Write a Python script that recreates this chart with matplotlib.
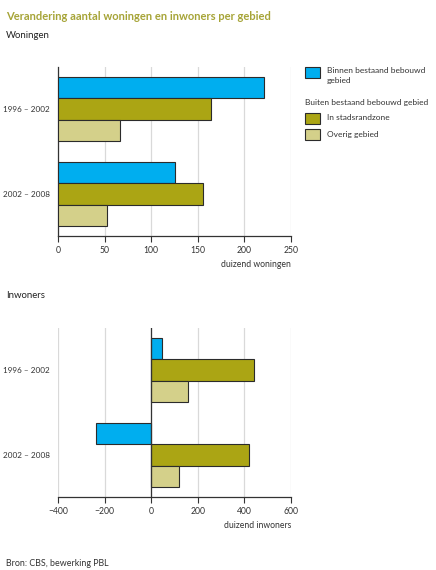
import matplotlib.pyplot as plt
from matplotlib.patches import Rectangle

periods = ["1996 – 2002", "2002 – 2008"]
series = ["Binnen bestaand bebouwd\ngebied", "In stadsrandzone", "Overig gebied"]
colors = ["#00aeef", "#aba514", "#d4d08a"]

# duizend woningen
woningen = [[221, 126],   # binnen bestaand bebouwd gebied
            [164, 156],   # in stadsrandzone
            [66, 53]]     # overig gebied

# duizend inwoners
inwoners = [[47, -237],
            [443, 421],
            [159, 119]]

plt.rcParams['font.family'] = ['Lato', 'DejaVu Sans']
plt.rcParams['font.size'] = 6

fig = plt.figure(figsize=(4.36, 5.70), dpi=100)
W, H = 436, 570

def axes_px(left, top, right, bottom):
    return fig.add_axes([left / W, 1 - bottom / H, (right - left) / W, (bottom - top) / H])

ax1 = axes_px(58, 67, 291, 236)
ax2 = axes_px(58, 328, 291, 497)

centers = [0, 4]

def draw(ax, data, xlim, ticks, xlabel, zero_line):
    for s, vals in enumerate(data):
        ys = [c - 1 + s for c in centers]
        ax.barh(ys, vals, height=1.0, color=colors[s], edgecolor="#2b2b2b",
                linewidth=0.8, zorder=3)
    ax.set_ylim(5.97, -1.97)
    ax.set_xlim(*xlim)
    ax.set_xticks(ticks)
    ax.set_yticks(centers)
    ax.set_yticklabels(periods, fontsize=5.9, color="#333333")
    ax.tick_params(axis="y", length=0, pad=6)
    ax.tick_params(axis="x", length=4, width=0.8, color="#333333", labelsize=6.2,
                   labelcolor="#333333", pad=3)
    ax.grid(axis="x", color="#d9d9d9", linewidth=0.9, zorder=0)
    for sp in ["top", "right"]:
        ax.spines[sp].set_visible(False)
    ax.spines["bottom"].set_color("#333333")
    ax.spines["bottom"].set_linewidth(0.9)
    if zero_line:
        ax.spines["left"].set_visible(False)
        ax.axvline(0, color="#333333", linewidth=0.9, zorder=4)
    else:
        ax.spines["left"].set_color("#333333")
        ax.spines["left"].set_linewidth(0.9)
    ax.set_xlabel(xlabel, fontsize=6.2, color="#333333", loc="right", labelpad=4)

draw(ax1, woningen, (0, 250), [0, 50, 100, 150, 200, 250], "duizend woningen", False)
draw(ax2, inwoners, (-400, 600), [-400, -200, 0, 200, 400, 600], "duizend inwoners", True)

def ftext(x, y, s, **kw):
    fig.text(x / W, 1 - y / H, s, va="center", ha="left", **kw)

ftext(6, 16, "Verandering aantal woningen en inwoners per gebied", fontsize=8,
      fontweight="bold", color="#a6a437")
ftext(6, 36, "Woningen", fontsize=6.9, color="#222222")
ftext(6, 296, "Inwoners", fontsize=6.9, color="#222222")
ftext(6, 563, "Bron: CBS, bewerking PBL", fontsize=6.4, color="#333333")

# legend
def patch(top, bottom, color):
    fig.patches.append(Rectangle((305 / W, 1 - bottom / H), 15 / W, (bottom - top) / H,
                                 transform=fig.transFigure, facecolor=color,
                                 edgecolor="#2b2b2b", linewidth=0.8))

patch(67, 78, colors[0])
fig.text(327 / W, 1 - 67 / H, series[0], va="top", ha="left", fontsize=6,
         color="#333333", linespacing=1.55)
ftext(305, 103, "Buiten bestaand bebouwd gebied", fontsize=6, color="#333333")
patch(113, 124, colors[1])
ftext(327, 118, series[1], fontsize=6, color="#333333")
patch(129, 140, colors[2])
ftext(327, 134, series[2], fontsize=6, color="#333333")

fig.savefig("out.png", dpi=100, facecolor="white")
